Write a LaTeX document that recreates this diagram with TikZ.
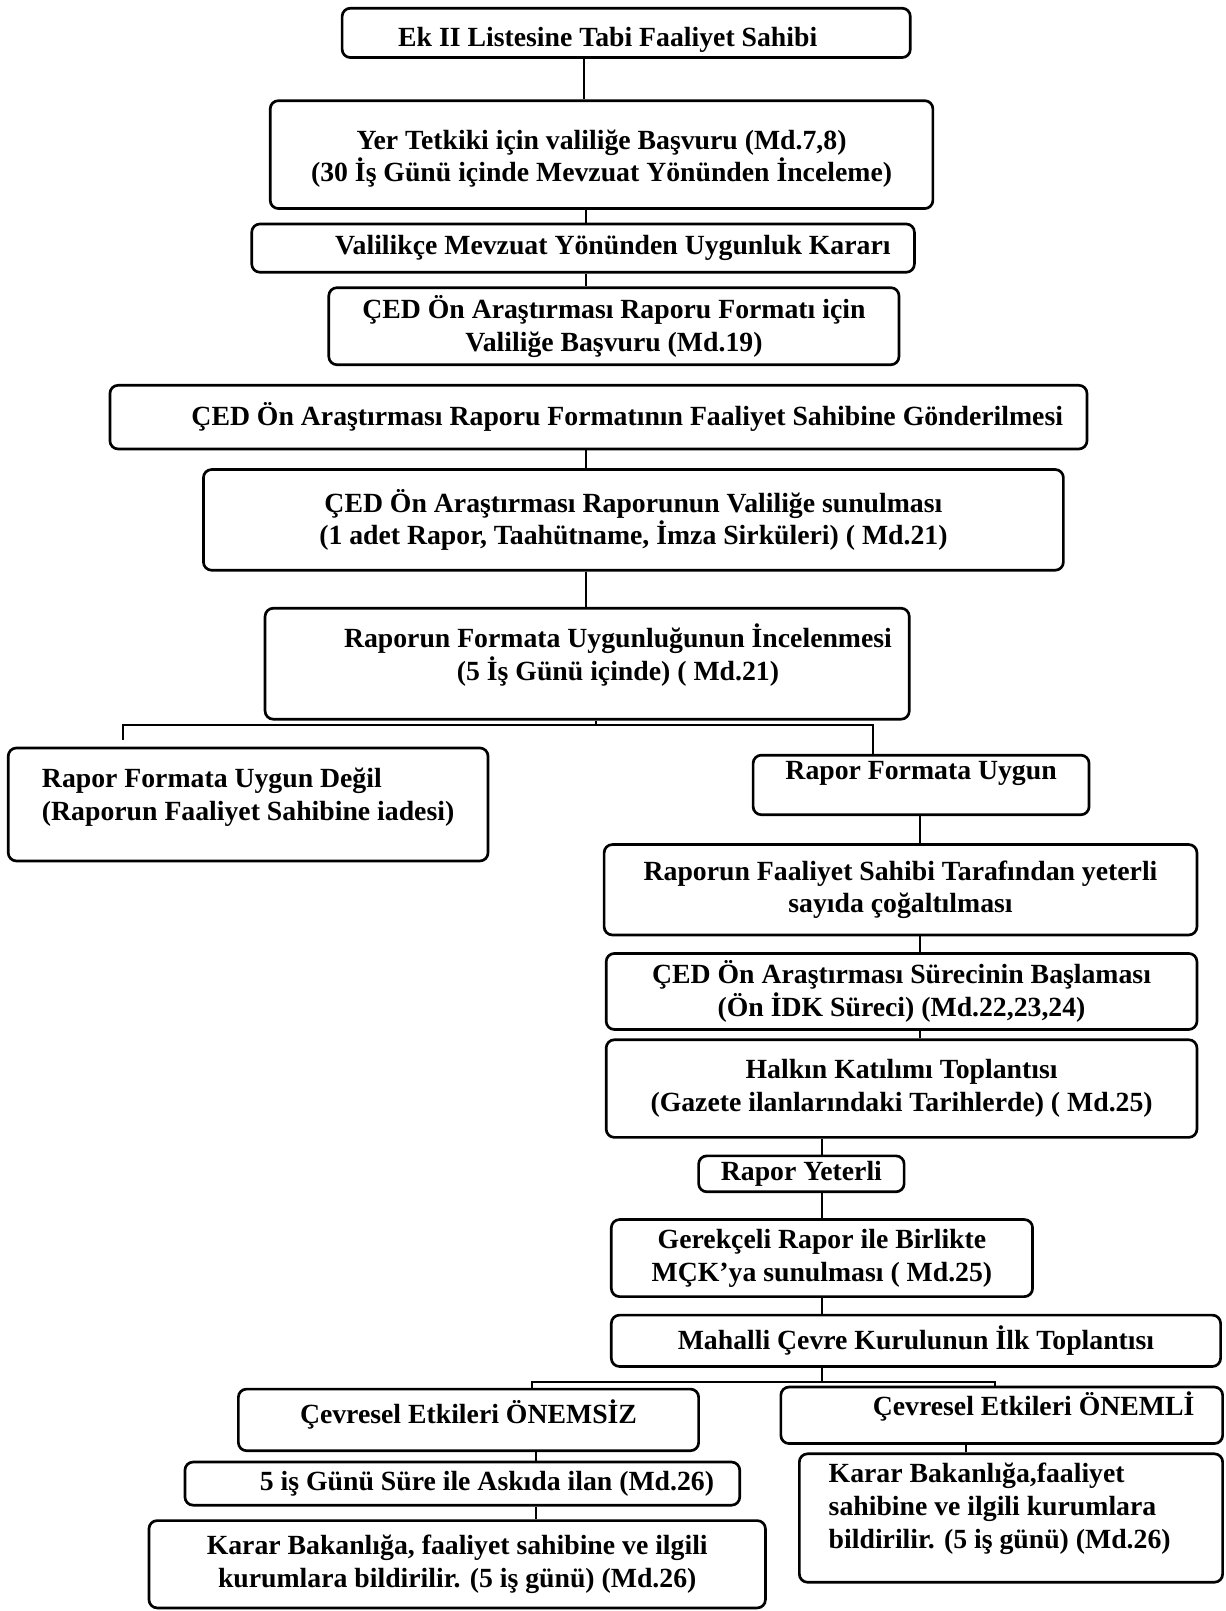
\documentclass[tikz,border=0pt]{standalone}
\usepackage{fontspec}
\setmainfont{Liberation Serif}
\tikzstyle{every node}=[font=\fontsize{13.5}{16}\selectfont\bfseries]
\tikzstyle{box}=[draw=black,line width=1.3pt,rounded corners=4pt,align=center,inner sep=2pt]
\tikzstyle{link}=[draw=black,line width=1pt]
\tikzset{wh/.style 2 args={minimum width=#1*0.5pt,minimum height=#2*0.5pt}}

\begin{document}
\begin{tikzpicture}[x=0.5pt,y=-0.5pt]
\useasboundingbox (0,0) rectangle (1193,1568);

\node[box,wh={553}{48},text height=16.5pt] (sahip) at (609.5,32) {Ek II Listesine Tabi Faaliyet Sahibi\hspace*{18pt}};
\node[box,wh={645}{105},text height=29pt,font=\fontsize{13.5}{14.5}\selectfont\bfseries] (tetkik) at (585.5,150.5)
  {Yer Tetkiki için valiliğe Başvuru (Md.7,8)\\(30 İş Günü içinde Mevzuat Yönünden İnceleme)};
\node[box,wh={645}{47}] (karar) at (567.5,241.5) {\hspace*{29pt}Valilikçe Mevzuat Yönünden Uygunluk Kararı};
\node[box,wh={555}{75}] (format) at (597.5,317.5)
  {ÇED Ön Araştırması Raporu Formatı için\\Valiliğe Başvuru (Md.19)};
\node[box,wh={951}{62}] (gonder) at (582.5,406)
  {\hspace*{28pt}ÇED Ön Araştırması Raporu Formatının Faaliyet Sahibine Gönderilmesi};
\node[box,wh={837}{98}] (sunum) at (616.5,506)
  {ÇED Ön Araştırması Raporunun Valiliğe sunulması\\(1 adet Rapor, Taahütname, İmza Sirküleri) ( Md.21)};
\node[box,wh={627}{108},text depth=11pt] (inceleme) at (571.5,646)
  {\hspace*{30pt}Raporun Formata Uygunluğunun İncelenmesi\\\hspace*{30pt}(5 İş Günü içinde) ( Md.21)};
\node[box,wh={467}{110},align=left,text depth=10pt] (degil) at (241.5,783)
  {Rapor Formata Uygun Değil\\(Raporun Faaliyet Sahibine iadesi)};
\node[box,wh={327}{58},text depth=14pt] (uygun) at (896.5,764) {Rapor Formata Uygun};
\node[box,wh={577}{88}] (cogalt) at (876.5,866)
  {Raporun Faaliyet Sahibi Tarafından yeterli\\sayıda çoğaltılması};
\node[box,wh={575}{74}] (surec) at (877.5,965)
  {ÇED Ön Araştırması Sürecinin Başlaması\\(Ön İDK Süreci) (Md.22,23,24)};
\node[box,wh={575}{95}] (halk) at (877.5,1059.5)
  {Halkın Katılımı Toplantısı\\(Gazete ilanlarındaki Tarihlerde) ( Md.25)};
\node[box,wh={200}{35}] (yeterli) at (780,1142.5) {Rapor Yeterli};
\node[box,wh={410}{75}] (mck) at (800,1224.5)
  {Gerekçeli Rapor ile Birlikte\\MÇK’ya sunulması ( Md.25)};
\node[box,wh={593}{50}] (mahalli) at (891.5,1305) {Mahalli Çevre Kurulunun İlk Toplantısı};
\node[box,wh={448}{60},text depth=8pt] (onemsiz) at (456,1382) {Çevresel Etkileri ÖNEMSİZ};
\node[box,wh={430}{55},text depth=11pt] (onemli) at (975,1377.5) {\hspace*{31pt}Çevresel Etkileri ÖNEMLİ};
\node[box,wh={540}{42}] (aski) at (450,1444) {\hspace*{24pt}5 iş Günü Süre ile Askıda ilan (Md.26)};
\node[box,wh={600}{85}] (bildir) at (445,1522.5)
  {Karar Bakanlığa, faaliyet sahibine ve ilgili\\kurumlara bildirilir. (5 iş günü) (Md.26)};
\node[box,wh={412}{125},align=left,text depth=12pt] (bildirb) at (984,1477.5)
  {Karar Bakanlığa,faaliyet\\sahibine ve ilgili kurumlara\\bildirilir. (5 iş günü) (Md.26)\hspace*{11pt}};

\coordinate (k1) at (568,0);
\coordinate (k2) at (570,0);
\coordinate (k3) at (895,0);
\coordinate (k4) at (800,0);
\coordinate (k5) at (522,0);
\coordinate (k6) at (940,0);
\coordinate (ayr1) at (580,706);
\coordinate (sol1) at (120,720);
\coordinate (sag1) at (850,706);
\coordinate (ayr2) at (800,1345);
\coordinate (sol2) at (518,1345);
\coordinate (sag2) at (968,1345);

\draw[link] (sahip.south -| k1) -- (tetkik.north -| k1);
\draw[link] (tetkik.south -| k2) -- (karar.north -| k2);
\draw[link] (karar.south -| k2) -- (format.north -| k2);
\draw[link] (gonder.south -| k2) -- (sunum.north -| k2);
\draw[link] (sunum.south -| k2) -- (inceleme.north -| k2);
\draw[link] (inceleme.south -| ayr1) -- (ayr1);
\draw[link] (sol1) |- (sag1) -- (uygun.north -| sag1);
\draw[link] (uygun.south -| k3) -- (cogalt.north -| k3);
\draw[link] (cogalt.south -| k3) -- (surec.north -| k3);
\draw[link] (surec.south -| k3) -- (halk.north -| k3);
\draw[link] (halk.south -| k4) -- (yeterli.north -| k4);
\draw[link] (yeterli.south -| k4) -- (mck.north -| k4);
\draw[link] (mck.south -| k4) -- (mahalli.north -| k4);
\draw[link] (mahalli.south -| ayr2) -- (ayr2);
\draw[link] (onemsiz.north -| sol2) -- (sol2) -- (sag2) -- (onemli.north -| sag2);
\draw[link] (onemsiz.south -| k5) -- (aski.north -| k5);
\draw[link] (aski.south -| k5) -- (bildir.north -| k5);
\draw[link] (onemli.south -| k6) -- (bildirb.north -| k6);
\end{tikzpicture}
\end{document}
